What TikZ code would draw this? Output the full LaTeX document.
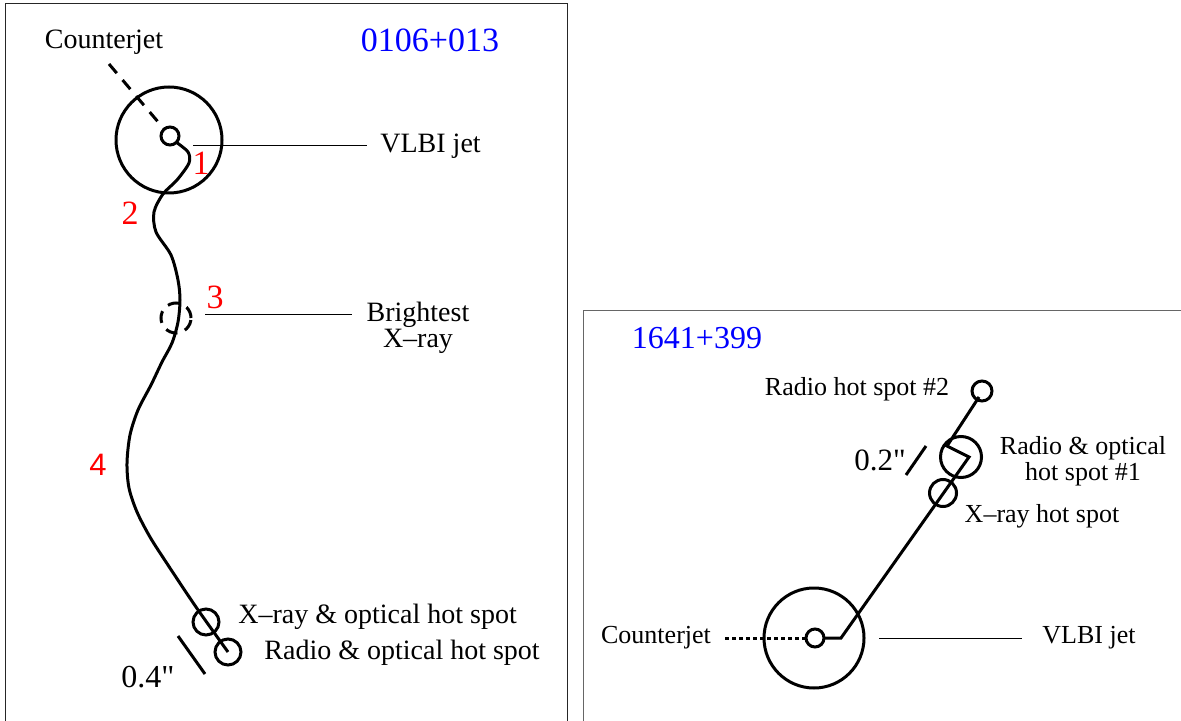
\documentclass[tikz,border=0pt]{standalone}
\usepackage{fontspec}
\setmainfont{Liberation Serif}[Ligatures=TeXOff]
\newfontfamily\helvfont{Liberation Sans}
\usetikzlibrary{calc}

\begin{document}
\begin{tikzpicture}[x=0.5pt,y=-0.5pt,
  jet/.style={line width=1.5pt},
  lead/.style={line width=0.5pt},
  spot/.style={circle,draw,line width=1.5pt,inner sep=0pt,outer sep=0pt},
  lbl/.style={inner sep=0pt,font=\fontsize{14}{13}\selectfont},
  rlbl/.style={inner sep=0pt,font=\fontsize{13}{11.5}\selectfont},
  num/.style={inner sep=0pt,text=red,font=\fontsize{17}{17}\selectfont},
  src/.style={inner sep=0pt,text=blue}]
  \useasboundingbox (0,0) rectangle (1181,721);
  \draw[line width=0.5pt,black!85] (5,721)--(5,4)--(567,4)--(567,721);
  \draw[line width=0.5pt,black!60] (583,721)--(583,310)--(1181,310);

  % 0106+013
  \node[src,font=\fontsize{17}{17}\selectfont] (lname) at (430,40) {0106+013};
  \node[spot,minimum size=53pt] (lhalo) at (169,140) {};
  \node[spot,minimum size=9pt] (lcore) at (170,136) {};
  \node[spot,dash pattern=on 6pt off 4pt,minimum size=15pt] (lbright) at (176,318) {};
  \node[spot,minimum size=13pt] (lxhs) at (206,622) {};
  \node[spot,minimum size=13pt] (lrhs) at (228,652) {};
  \coordinate (lcjA) at (109,64);
  \coordinate (lvA) at (193,146);
  \coordinate (lbA) at (205,314);
  \coordinate (lsbA) at (178,636);
  \coordinate (lsbB) at (205,674);
  \draw[jet,dash pattern=on 6pt off 4.5pt] (lcjA) -- (lcore);
  \draw[jet] plot[smooth,tension=0.5] coordinates {(lcore.-45) (188,152)
    (189,163) (177,180) (163,194) (154,212) (156,232) (171,255) (178,280)
    (180,300) (178,322) (172,343) (162,362) (151,385) (138,410) (130,435)
    (127,463) (129,488) (137,512) (150,537) (166,562) (196,607) (lrhs.center)};
  \draw[jet] (lsbA) -- (lsbB);
  \node[lbl] (lcjtxt) at (104,42) {Counterjet};
  \node[lbl,anchor=west] (lvtxt) at (380,146) {VLBI jet};
  \node[lbl,align=center] (lbrtxt) at (418,328) {Brightest\\X–ray};
  \node[lbl,anchor=west] (lxtxt) at (238,617) {X–ray \& optical hot spot};
  \node[lbl,anchor=west] (lrtxt) at (264,653) {Radio \& optical hot spot};
  \node[lbl,font=\fontsize{16}{16}\selectfont] (lsbtxt) at (148,677) {0.4"};
  \draw[lead] (lvA) -- ($(lvtxt.west)+(-13,0)$);
  \draw[lead] (lbA) -- ($(lbA -| lbrtxt.west)+(-14,0)$);
  \node[num] (n1) at (201,163) {1};
  \node[num] (n2) at (130,213) {2};
  \node[num] (n3) at (215,297) {3};
  \node[num,font=\helvfont\fontsize{15.5}{15.5}\selectfont] (n4) at (98,465) {4};

  % 1641+399
  \node[src,font=\fontsize{16}{16}\selectfont] (rname) at (697,338) {1641+399};
  \node[spot,minimum size=50pt] (rhalo) at (814,638) {};
  \node[spot,minimum size=9pt] (rcore) at (815,638) {};
  \node[spot,minimum size=20.5pt] (rhsa) at (961,457) {};
  \node[spot,minimum size=13.5pt] (rxhs) at (943,493) {};
  \node[spot,minimum size=10pt] (rhsb) at (982,391) {};
  \coordinate (rcjA) at (725,638);
  \coordinate (rjA) at (841,638);
  \coordinate (rjB) at (969,457);
  \coordinate (rjC) at (947,446);
  \coordinate (rjD) at (979,397);
  \coordinate (rvA) at (879,638);
  \coordinate (rsbA) at (926,446);
  \coordinate (rsbB) at (906,475);
  \draw[jet,dash pattern=on 2pt off 1.5pt] (rcjA) -- (rcore);
  \draw[jet] (rcore) -- (rjA) -- (rjB) -- (rjC) -- (rjD);
  \draw[jet] (rsbA) -- (rsbB);
  \node[rlbl] (rcjtxt) at (656,638) {Counterjet};
  \node[rlbl,anchor=west] (rvtxt) at (1042,638) {VLBI jet};
  \node[rlbl] (rhsbtxt) at (857,389) {Radio hot spot \#2};
  \node[rlbl,align=center] (rhsatxt) at (1083,461) {Radio \& optical\\hot spot \#1};
  \node[rlbl] (rxtxt) at (1042,516) {X–ray hot spot};
  \node[rlbl,font=\fontsize{15.5}{15.5}\selectfont] (rsbtxt) at (880,460) {0.2"};
  \draw[lead] (rvA) -- ($(rvtxt.west)+(-20,0)$);
\end{tikzpicture}
\end{document}
